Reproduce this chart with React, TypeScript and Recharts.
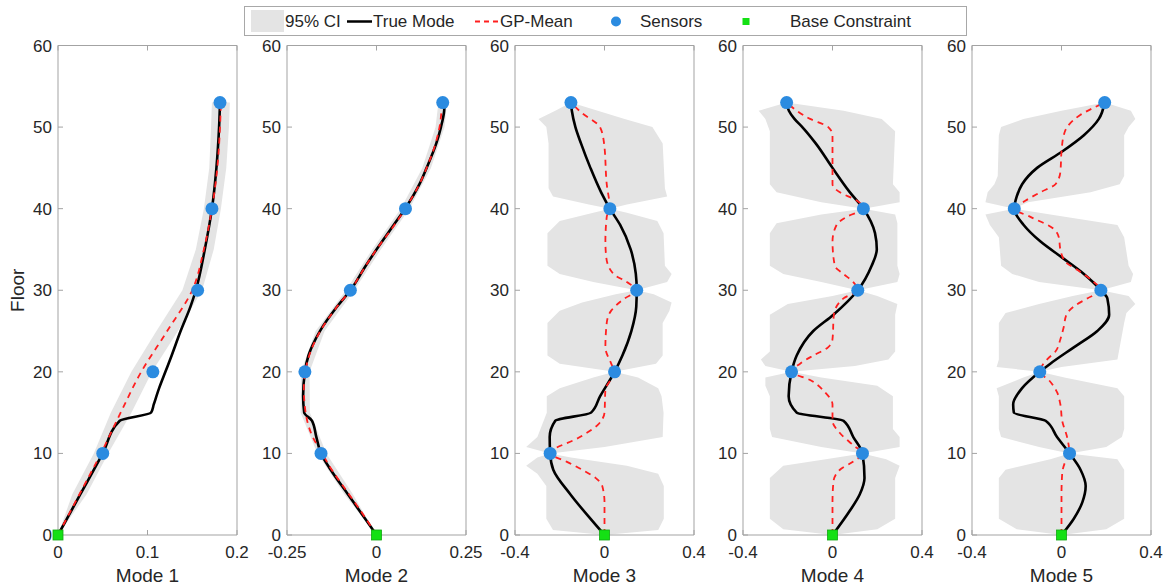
import { Area, ComposedChart, Line, XAxis, YAxis } from "recharts";

// floor, value pairs
const true1 = [[0, 0], [5, 0.025], [10, 0.05], [14, 0.069], [15, 0.104], [16, 0.107], [18, 0.113], [20, 0.12], [22, 0.127], [25, 0.137], [28, 0.148], [30, 0.154], [35, 0.164], [40, 0.172], [45, 0.177], [50, 0.18], [53, 0.181]];
const mean1 = [[0, 0], [5, 0.024], [10, 0.048], [15, 0.07], [20, 0.093], [25, 0.122], [30, 0.15], [35, 0.163], [40, 0.172], [45, 0.178], [50, 0.181], [53, 0.182]];
const sensors1 = [[10, 0.05], [20, 0.106], [30, 0.156], [40, 0.172], [53, 0.181]];
const ci1 = [[0, 0, 0], [5, 0.016, 0.032], [10, 0.04, 0.056], [15, 0.059, 0.082], [20, 0.082, 0.105], [25, 0.11, 0.134], [30, 0.139, 0.161], [35, 0.154, 0.174], [40, 0.163, 0.182], [45, 0.169, 0.188], [50, 0.171, 0.191], [53, 0.172, 0.192]];

const true2 = [[0, 0], [3, -0.048], [5, -0.08], [8, -0.128], [10, -0.155], [12, -0.168], [14, -0.18], [15, -0.202], [17, -0.205], [20, -0.2], [22, -0.19], [25, -0.158], [28, -0.11], [30, -0.073], [33, -0.03], [35, 0], [38, 0.048], [40, 0.08], [43, 0.12], [45, 0.14], [48, 0.167], [50, 0.18], [52, 0.189], [53, 0.19]];
const mean2 = [[0, 0], [3, -0.045], [5, -0.077], [8, -0.125], [10, -0.152], [12, -0.178], [15, -0.198], [18, -0.203], [20, -0.199], [22, -0.188], [25, -0.157], [28, -0.11], [30, -0.073], [33, -0.03], [35, 0], [38, 0.05], [40, 0.08], [43, 0.12], [45, 0.14], [48, 0.165], [50, 0.176], [53, 0.183]];
const sensors2 = [[10, -0.155], [20, -0.2], [30, -0.073], [40, 0.081], [53, 0.185]];
const ci2 = [[0, 0, 0], [5, -0.09, -0.066], [10, -0.165, -0.14], [15, -0.212, -0.186], [20, -0.211, -0.187], [25, -0.17, -0.145], [30, -0.085, -0.062], [35, -0.012, 0.012], [40, 0.068, 0.092], [45, 0.128, 0.152], [50, 0.165, 0.19], [53, 0.173, 0.197]];

const true3 = [[0, 0], [2, -0.063], [5, -0.153], [8, -0.229], [10, -0.243], [12, -0.245], [14, -0.22], [15, -0.06], [17, -0.02], [20, 0.045], [22, 0.08], [25, 0.12], [28, 0.142], [30, 0.144], [32, 0.14], [35, 0.117], [38, 0.07], [40, 0.024], [42, -0.015], [45, -0.063], [48, -0.105], [50, -0.13], [52, -0.146], [53, -0.15]];
const mean3 = [[0, 0], [4, 0], [6, -0.01], [7, -0.04], [8, -0.1], [9, -0.17], [10, -0.243], [12, -0.11], [13.5, -0.03], [15, 0], [17.8, 0.004], [20, 0.045], [21, 0.03], [23, 0.004], [26, 0.01], [27.5, 0.03], [29, 0.09], [30, 0.144], [31, 0.1], [32, 0.04], [34, 0.008], [36, 0.004], [39, 0.01], [40, 0.024], [43, 0.01], [48, -0.002], [50, -0.02], [51.7, -0.1], [53, -0.15]];
const sensors3 = [[10, -0.243], [20, 0.045], [30, 0.144], [40, 0.024], [53, -0.15]];
const ci3 = [[0, 0, 0], [0.6, -0.23, 0.24], [2, -0.26, 0.265], [6, -0.26, 0.265], [7.5, -0.3, 0.24], [8.5, -0.35, 0.1], [9.5, -0.3, -0.15], [10, -0.243, -0.243], [10.8, -0.35, 0], [12, -0.3, 0.26], [15, -0.258, 0.264], [17, -0.258, 0.255], [18, -0.2, 0.24], [19.3, -0.05, 0.15], [20, 0.045, 0.045], [21, -0.2, 0.23], [22, -0.255, 0.26], [26, -0.255, 0.26], [27.5, -0.2, 0.29], [28.5, -0.1, 0.3], [29.5, 0.05, 0.22], [30, 0.144, 0.144], [31, -0.05, 0.28], [32, -0.2, 0.3], [33, -0.255, 0.27], [37, -0.255, 0.264], [38.5, -0.2, 0.236], [39.5, -0.05, 0.1], [40, 0.024, 0.024], [40.5, -0.07, 0.1], [41.5, -0.23, 0.28], [42.5, -0.25, 0.27], [48, -0.25, 0.26], [50, -0.26, 0.214], [51, -0.295, 0.09], [52, -0.22, -0.03], [53, -0.15, -0.15]];

const true4 = [[0, 0], [3, 0.078], [5, 0.122], [7, 0.143], [10, 0.134], [12, 0.093], [14, 0.049], [15, -0.16], [17, -0.196], [20, -0.183], [22, -0.16], [25, -0.086], [27, 0.004], [30, 0.113], [33, 0.175], [35, 0.198], [37, 0.19], [40, 0.138], [42, 0.078], [45, 0.0], [48, -0.075], [50, -0.135], [51, -0.17], [52, -0.195], [53, -0.205]];
const mean4 = [[0, 0], [4, 0], [6.5, 0.004], [8, 0.033], [9, 0.093], [10, 0.134], [11, 0.093], [12.5, 0.033], [14, 0], [16, 0], [17.5, -0.034], [19, -0.1], [20, -0.183], [21, -0.145], [22, -0.086], [23, -0.02], [24, 0], [27, 0.006], [29, 0.049], [30, 0.113], [31, 0.093], [32, 0.049], [33, 0.01], [36, 0], [38, 0.018], [39, 0.063], [40, 0.138], [41, 0.108], [42, 0.033], [43, 0], [49, 0], [50, -0.019], [51, -0.1], [53, -0.205]];
const sensors4 = [[10, 0.134], [20, -0.183], [30, 0.113], [40, 0.138], [53, -0.205]];
const ci4 = [[0, 0, 0], [0.7, -0.22, 0.2], [2, -0.28, 0.28], [7, -0.28, 0.28], [8.5, -0.22, 0.3], [9.3, -0.03, 0.24], [10, 0.134, 0.134], [10.8, -0.05, 0.3], [12, -0.27, 0.3], [13, -0.28, 0.27], [17, -0.28, 0.27], [18.3, -0.3, 0.2], [19.3, -0.3, -0.05], [20, -0.183, -0.183], [20.7, -0.3, 0.1], [21.5, -0.32, 0.25], [22.5, -0.28, 0.28], [27, -0.28, 0.28], [28.3, -0.2, 0.29], [29.3, 0, 0.2], [30, 0.113, 0.113], [31, -0.05, 0.29], [32, -0.22, 0.3], [33, -0.28, 0.29], [37, -0.28, 0.29], [38.2, -0.25, 0.29], [39.3, -0.05, 0.28], [40, 0.138, 0.138], [40.8, -0.05, 0.3], [42, -0.25, 0.3], [43, -0.28, 0.27], [49.5, -0.28, 0.28], [51, -0.3, 0.22], [52, -0.33, 0.05], [53, -0.205, -0.205]];

const true5 = [[0, 0], [2, 0.055], [4, 0.093], [6, 0.108], [8, 0.085], [10, 0.036], [12, -0.02], [14, -0.071], [15, -0.213], [16, -0.216], [18, -0.176], [20, -0.097], [21, -0.05], [23, 0.055], [25, 0.16], [27, 0.213], [29, 0.205], [30, 0.176], [32, 0.1], [34, 0.003], [36, -0.095], [38, -0.169], [40, -0.211], [41.5, -0.2], [43, -0.176], [45, -0.109], [47, 0.003], [49, 0.1], [51, 0.167], [53, 0.193]];
const mean5 = [[0, 0], [5, 0], [7.5, 0.003], [9, 0.017], [10, 0.036], [11, 0.032], [12, 0.025], [14, 0.003], [16, -0.005], [17.5, -0.02], [19, -0.057], [20, -0.097], [21.5, -0.065], [22.5, -0.027], [24, -0.005], [25.5, 0.01], [27, 0.022], [28, 0.055], [29, 0.115], [30, 0.176], [31, 0.145], [32.5, 0.07], [33.5, 0.017], [35, -0.005], [36.5, -0.012], [37.5, -0.034], [39, -0.139], [40, -0.211], [41, -0.16], [42, -0.095], [43, -0.027], [44.5, -0.005], [47, 0], [49, 0.01], [50, 0.025], [51.5, 0.085], [53, 0.193]];
const sensors5 = [[10, 0.036], [20, -0.097], [30, 0.176], [40, -0.211], [53, 0.193]];
const ci5 = [[0, 0, 0], [0.7, -0.2, 0.2], [2, -0.28, 0.28], [7, -0.28, 0.28], [8, -0.25, 0.28], [9.3, -0.05, 0.25], [10, 0.036, 0.036], [10.8, -0.1, 0.2], [12, -0.27, 0.27], [13, -0.28, 0.28], [17, -0.28, 0.28], [18, -0.29, 0.25], [19.3, -0.17, 0.013], [20, -0.097, -0.097], [20.6, -0.29, 0], [21.5, -0.28, 0.25], [26, -0.28, 0.28], [27.2, -0.25, 0.29], [28.3, -0.1, 0.33], [29.3, 0.05, 0.3], [30, 0.176, 0.176], [31, -0.1, 0.31], [32, -0.22, 0.32], [33, -0.27, 0.3], [36.5, -0.28, 0.28], [38, -0.32, 0.25], [39.3, -0.34, -0.05], [40, -0.211, -0.211], [40.8, -0.34, -0.15], [42, -0.33, 0.13], [43, -0.3, 0.26], [44, -0.285, 0.28], [49, -0.28, 0.28], [50, -0.27, 0.3], [51, -0.17, 0.33], [52, 0, 0.31], [53, 0.193, 0.193]];

const baseConstraint = [[0, 0]];
const floorTicks = [0, 10, 20, 30, 40, 50, 60];
const modeLabels = ["Mode 1", "Mode 2", "Mode 3", "Mode 4", "Mode 5"];
const legendLabels = ["95% CI", "True Mode", "GP-Mean", "Sensors", "Base Constraint"];

const panels = [
  { truth: true1, mean: mean1, sensors: sensors1, ci: ci1, domain: [0, 0.2], ticks: [0, 0.1, 0.2] },
  { truth: true2, mean: mean2, sensors: sensors2, ci: ci2, domain: [-0.25, 0.25], ticks: [-0.25, 0, 0.25] },
  { truth: true3, mean: mean3, sensors: sensors3, ci: ci3, domain: [-0.4, 0.4], ticks: [-0.4, 0, 0.4] },
  { truth: true4, mean: mean4, sensors: sensors4, ci: ci4, domain: [-0.4, 0.4], ticks: [-0.4, 0, 0.4] },
  { truth: true5, mean: mean5, sensors: sensors5, ci: ci5, domain: [-0.4, 0.4], ticks: [-0.4, 0, 0.4] },
];

const plotLefts = [58, 287, 515, 743, 972];
const PLOT_W = 179;
const RIGHT_PAD = 16;
const FONT = "'Liberation Sans', Arial, Helvetica, sans-serif";
const INK = "#262626";
const AXIS = "#a3a3a3";
const BLUE = "#2b8be0";
const GREEN = "#14e014";
const RED = "#ff1f1f";
const BAND = "#e4e4e4";

const rows = (pts: number[][]) => pts.map(([floor, x]) => ({ floor, x }));
const bandRows = (pts: number[][]) => pts.map(([floor, lo, hi]) => ({ floor, x: [lo, hi] }));

const square = (p: any) => (
  <rect key={`base-${p.index}`} x={p.cx - 5} y={p.cy - 5} width={10} height={10} fill={GREEN} stroke="#10a810" strokeWidth={0.8} />
);

const tickStyle = { fontSize: 17, fill: INK, fontFamily: FONT };

function Panel({ index }: { index: number }) {
  const p = panels[index];
  const first = index === 0;
  const lw = first ? 58 : 45;
  return (
    <div style={{ position: "absolute", left: plotLefts[index] - lw, top: 0 }}>
      <ComposedChart
        layout="vertical"
        width={lw + PLOT_W + 1 + RIGHT_PAD}
        height={586}
        margin={{ top: 44.5, right: RIGHT_PAD, bottom: 4, left: 0 }}
        style={{ fontFamily: FONT }}
      >
        <XAxis
          type="number"
          domain={p.domain}
          ticks={p.ticks}
          interval={0}
          height={47}
          tickSize={-5}
          tickMargin={16}
          axisLine={{ stroke: AXIS }}
          tickLine={{ stroke: AXIS }}
          tick={tickStyle}
          label={{ value: modeLabels[index], position: "insideBottom", offset: 0, fontSize: 19, fill: INK, fontFamily: FONT }}
        />
        <XAxis
          xAxisId="top"
          orientation="top"
          type="number"
          domain={p.domain}
          ticks={p.ticks}
          interval={0}
          allowDataOverflow
          height={1}
          tickSize={-5}
          tickFormatter={() => ""}
          axisLine={{ stroke: AXIS }}
          tickLine={{ stroke: AXIS }}
        />
        <YAxis
          type="number"
          dataKey="floor"
          domain={[0, 60]}
          ticks={floorTicks}
          interval={0}
          reversed
          width={lw}
          tickSize={-5}
          tickMargin={11}
          axisLine={{ stroke: AXIS }}
          tickLine={{ stroke: AXIS }}
          tick={tickStyle}
          label={
            first
              ? { value: "Floor", angle: -90, position: "insideLeft", offset: 17, fontSize: 19, fill: INK, fontFamily: FONT, style: { textAnchor: "middle" } }
              : undefined
          }
        />
        <YAxis
          yAxisId="right"
          orientation="right"
          type="number"
          domain={[0, 60]}
          ticks={floorTicks}
          interval={0}
          reversed
          allowDataOverflow
          width={1}
          tickSize={-5}
          tickFormatter={() => ""}
          axisLine={{ stroke: AXIS }}
          tickLine={{ stroke: AXIS }}
        />
        <Area data={bandRows(p.ci)} dataKey="x" type="linear" fill={BAND} fillOpacity={1} stroke="none" isAnimationActive={false} />
        <Line data={rows(p.truth)} dataKey="x" type="monotone" stroke="#000" strokeWidth={2.6} dot={false} activeDot={false} isAnimationActive={false} />
        <Line data={rows(p.mean)} dataKey="x" type="monotone" stroke={RED} strokeWidth={1.8} strokeDasharray="6 5" dot={false} activeDot={false} isAnimationActive={false} />
        <Line data={rows(p.sensors)} dataKey="x" stroke="none" dot={{ r: 6.5, fill: BLUE, stroke: "none" }} activeDot={false} isAnimationActive={false} />
        <Line data={rows(baseConstraint)} dataKey="x" stroke="none" dot={square} activeDot={false} isAnimationActive={false} />
      </ComposedChart>
    </div>
  );
}

function Legend() {
  const txt = { fontSize: 17, fill: INK, fontFamily: FONT, dominantBaseline: "central" as const };
  return (
    <svg style={{ position: "absolute", left: 244, top: 6 }} width={724} height={31}>
      <rect x={0.5} y={0.5} width={722} height={29} fill="#fff" stroke="#a8a8a8" />
      <rect x={7} y={4} width={33} height={22} fill={BAND} />
      <text x={41} y={15.5} {...txt}>{legendLabels[0]}</text>
      <line x1={103} x2={128} y1={15.5} y2={15.5} stroke="#000" strokeWidth={2.5} />
      <text x={129} y={15.5} {...txt}>{legendLabels[1]}</text>
      <line x1={231} x2={255} y1={15.5} y2={15.5} stroke={RED} strokeWidth={2} strokeDasharray="5 4" />
      <text x={256} y={15.5} {...txt}>{legendLabels[2]}</text>
      <circle cx={372} cy={15.5} r={5} fill={BLUE} />
      <text x={396} y={15.5} {...txt}>{legendLabels[3]}</text>
      <rect x={498.5} y={12} width={7} height={7} fill={GREEN} />
      <text x={546} y={15.5} {...txt}>{legendLabels[4]}</text>
    </svg>
  );
}

export default function App() {
  return (
    <div style={{ position: "fixed", left: 0, top: 0, width: 1167, height: 587, background: "#fff", overflow: "hidden" }}>
      {panels.map((_, i) => (
        <Panel key={i} index={i} />
      ))}
      <Legend />
    </div>
  );
}
